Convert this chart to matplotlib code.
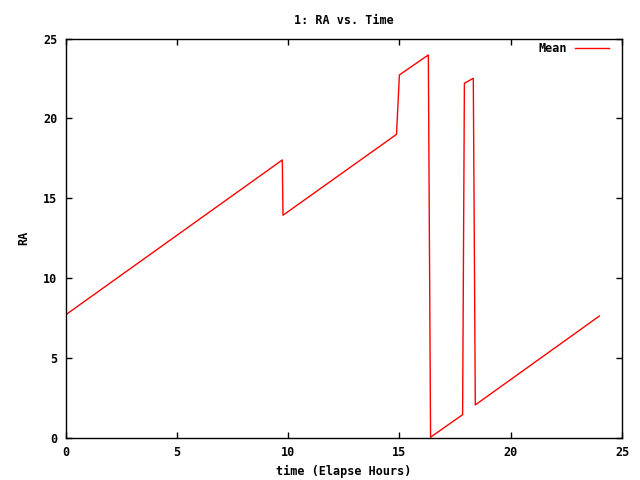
import matplotlib
matplotlib.use("Agg")
import matplotlib.pyplot as plt

# Break points of the mean RA track (elapsed hours, RA hours)
time_h = [0.0, 9.74, 9.77, 14.87, 15.00, 16.30, 16.40, 17.84, 17.92, 18.32, 18.41, 23.98]
ra_mean = [7.70, 17.40, 13.94, 19.00, 22.72, 23.97, 0.05, 1.46, 22.20, 22.51, 2.07, 7.63]

xticks = [0, 5, 10, 15, 20, 25]
yticks = [0, 5, 10, 15, 20, 25]

font = {"family": "DejaVu Sans Mono", "weight": "bold", "size": 8.5}

fig = plt.figure(figsize=(6.4, 4.8), dpi=100)
ax = fig.add_axes([65.5/640, 42/480, (622-65.5)/640, (438-38.5)/480])
ax.plot(time_h, ra_mean, color="#ff0000", lw=1.0, label="Mean")
ax.set_xlim(0, 25)
ax.set_ylim(0, 25)
ax.set_xticks(xticks)
ax.set_yticks(yticks)
ax.set_xticklabels([str(t) for t in xticks], fontdict=font)
ax.set_yticklabels([str(t) for t in yticks], fontdict=font)
ax.tick_params(direction="in", length=4, width=1, top=True, right=True, pad=6)
for s in ax.spines.values():
    s.set_linewidth(1.0)
ax.set_title("1: RA vs. Time", fontdict=font, pad=10.5)
ax.set_xlabel("time (Elapse Hours)", fontdict=font, labelpad=4)
ax.set_ylabel("RA", fontdict=font, labelpad=9)
leg = ax.legend(loc="upper right", frameon=False, markerfirst=False,
                prop={"family": "DejaVu Sans Mono", "weight": "bold", "size": 8.5},
                handlelength=2.9, handletextpad=0.7, borderaxespad=0.2,
                bbox_to_anchor=(0.99, 1.008))
fig.savefig("out.png", dpi=100)
